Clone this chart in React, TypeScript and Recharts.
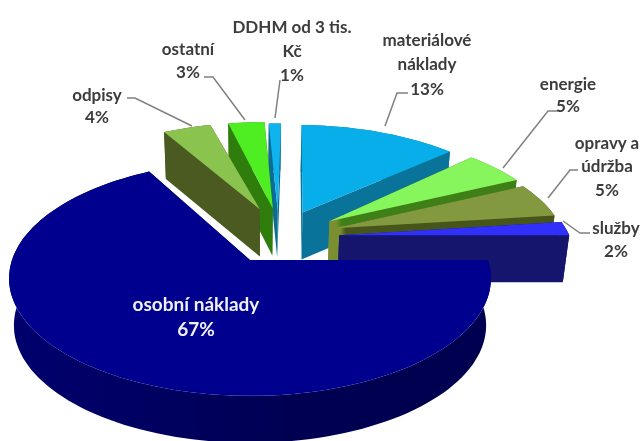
import React from 'react';
import { PieChart, Pie } from 'recharts';

// back group is painted first, going counter-clockwise from 12 o'clock
const backNames = ['DDHM od 3 tis. Kč', 'ostatní', 'odpisy'];
const backValues = [1, 3, 4];
const frontNames = ['materiálové náklady', 'energie', 'opravy a údržba', 'služby', 'osobní náklady'];
const frontValues = [13, 5, 5, 2, 67];

const backData = backNames.map((name, i) => ({ name, value: backValues[i] }));
const frontData = frontNames.map((name, i) => ({ name, value: frontValues[i] }));

const TOP: Record<string, string> = {
  'DDHM od 3 tis. Kč': '#0fb4ee',
  ostatní: '#4fee22',
  odpisy: '#8bc34f',
  'materiálové náklady': '#08aeea',
  energie: '#86f65c',
  'opravy a údržba': '#83993f',
  služby: '#3030fa',
  'osobní náklady': '#00008e',
};
const WALL: Record<string, string> = {
  'DDHM od 3 tis. Kč': '#0b6d92',
  ostatní: '#2f7d0c',
  odpisy: '#4a5a20',
  'materiálové náklady': '#0a7399',
  energie: 'url(#energyWall)',
  'opravy a údržba': 'url(#repairWall)',
  služby: '#15156e',
  'osobní náklady': 'url(#navyWall)',
};
// explode offset in pie radii, plus a small turn in degrees
const SHIFT: Record<string, [number, number, number]> = {
  'DDHM od 3 tis. Kč': [0.125, 0.464, 2],
  ostatní: [0.103, 0.484, 2],
  odpisy: [0.045, 0.474, 0],
  'materiálové náklady': [0.236, 0.444, 1.7],
  energie: [0.352, 0.356, 0],
  'opravy a údržba': [0.37, 0.289, 0],
  služby: [0.388, 0.224, 0],
  'osobní náklady': [0, 0, 0],
};

const SQUASH = 0.4817;
const TILT = 0.156;
const DEPTH = 47;
const FLOOR_SHRINK = 0.98;

const Slice3D = (props: any) => {
  const { cx, cy, outerRadius, startAngle, endAngle, name } = props;
  const [ox, oy, turn] = SHIFT[name];
  const project = (X: number, Y: number): [number, number] => {
    const w = 1 + TILT * Y;
    return [cx + (outerRadius * X) / w, cy - (outerRadius * SQUASH * Y) / w];
  };
  const a0 = 90 - startAngle + turn;
  const a1 = 90 - endAngle + turn;
  const steps = Math.max(2, Math.ceil(Math.abs(a1 - a0) / 2));
  const rim: [number, number][] = [];
  for (let i = 0; i <= steps; i++) {
    const t = ((a0 + ((a1 - a0) * i) / steps) * Math.PI) / 180;
    rim.push(project(ox + Math.sin(t), oy + Math.cos(t)));
  }
  const apex = project(ox, oy);
  const path = (pts: [number, number][]) =>
    'M' + pts.map((p) => `${p[0].toFixed(1)},${p[1].toFixed(1)}`).join('L') + 'Z';
  const down = (p: [number, number]): [number, number] => [cx + (p[0] - cx) * FLOOR_SHRINK, p[1] + DEPTH];
  const wall = WALL[name];
  const rimWall = [...rim, ...rim.map(down).reverse()];
  return (
    <g>
      <path d={path(rimWall)} fill={wall} />
      <path d={path([apex, rim[0], down(rim[0]), down(apex)])} fill={wall} />
      <path d={path([apex, rim[steps], down(rim[steps]), down(apex)])} fill={wall} />
      <path d={path([apex, ...rim])} fill={TOP[name]} />
    </g>
  );
};

const LABELS: Record<string, { lines: string[]; x: number; y: number; gap: number; leader: number[][] }> = {
  'DDHM od 3 tis. Kč': { lines: ['DDHM od 3 tis.', 'Kč', '1%'], x: 292, y: 26, gap: 24, leader: [[280, 80], [275, 118]] },
  ostatní: { lines: ['ostatní', '3%'], x: 188, y: 48, gap: 23, leader: [[204, 77], [213, 77], [245, 120]] },
  odpisy: { lines: ['odpisy', '4%'], x: 97, y: 94, gap: 22, leader: [[127, 98], [135, 98], [192, 126]] },
  'materiálové náklady': { lines: ['materiálové', 'náklady', '13%'], x: 427, y: 39, gap: 24.5, leader: [[408, 93], [397, 93], [385, 126]] },
  energie: { lines: ['energie', '5%'], x: 568, y: 83, gap: 22, leader: [[558, 111], [548, 111], [503, 168]] },
  'opravy a údržba': { lines: ['opravy a', 'údržba', '5%'], x: 607, y: 142, gap: 23.5, leader: [[578, 170], [570, 170], [548, 198]] },
  služby: { lines: ['služby', '2%'], x: 616, y: 227, gap: 23, leader: [[590, 233], [580, 233], [563, 221]] },
  'osobní náklady': { lines: ['osobní náklady', '67%'], x: 196, y: 303, gap: 25, leader: [] },
};

const renderLabel = (props: any) => {
  const cfg = LABELS[props.name];
  const inside = cfg.leader.length === 0;
  return (
    <g>
      {!inside && (
        <polyline points={cfg.leader.map((p) => p.join(',')).join(' ')} fill="none" stroke="#808080" strokeWidth={1.5} />
      )}
      {cfg.lines.map((line, i) => (
        <text
          key={line}
          x={cfg.x}
          y={cfg.y + i * cfg.gap}
          textAnchor="middle"
          dominantBaseline="central"
          fontFamily="Lato"
          fontWeight={700}
          fontSize={inside ? 19 : 17}
          fill={inside ? '#f0f0f8' : '#3c3c3c'}
        >
          {line}
        </text>
      ))}
    </g>
  );
};

const App = () => (
  <div style={{ position: 'absolute', left: 0, top: 0, width: 642, height: 441, overflow: 'hidden', background: '#fff' }}>
    <div style={{ filter: 'blur(0.6px)' }}>
      <PieChart width={642} height={441} margin={{ top: 0, right: 0, bottom: 0, left: 0 }}>
        <defs>
          <linearGradient id="navyWall" x1="0" y1="0" x2="1" y2="0">
            <stop offset="0" stopColor="#00006e" />
            <stop offset="0.6" stopColor="#000052" />
            <stop offset="1" stopColor="#000050" />
          </linearGradient>
          <linearGradient id="energyWall" gradientUnits="userSpaceOnUse" x1="336" y1="0" x2="342" y2="0">
            <stop offset="0" stopColor="#7a9030" />
            <stop offset="1" stopColor="#3f7f18" />
          </linearGradient>
          <linearGradient id="repairWall" gradientUnits="userSpaceOnUse" x1="340" y1="0" x2="346" y2="0">
            <stop offset="0" stopColor="#7a9030" />
            <stop offset="1" stopColor="#46561a" />
          </linearGradient>
        </defs>
        <Pie
          data={backData}
          dataKey="value"
          nameKey="name"
          cx={250}
          cy={260}
          outerRadius={238}
          startAngle={90}
          endAngle={118.8}
          stroke="none"
          isAnimationActive={false}
          shape={Slice3D}
          activeShape={Slice3D}
          label={renderLabel}
          labelLine={false}
        />
        <Pie
          data={frontData}
          dataKey="value"
          nameKey="name"
          cx={250}
          cy={260}
          outerRadius={238}
          startAngle={90}
          endAngle={-241.2}
          stroke="none"
          isAnimationActive={false}
          shape={Slice3D}
          activeShape={Slice3D}
          label={renderLabel}
          labelLine={false}
        />
      </PieChart>
    </div>
  </div>
);

export default App;
